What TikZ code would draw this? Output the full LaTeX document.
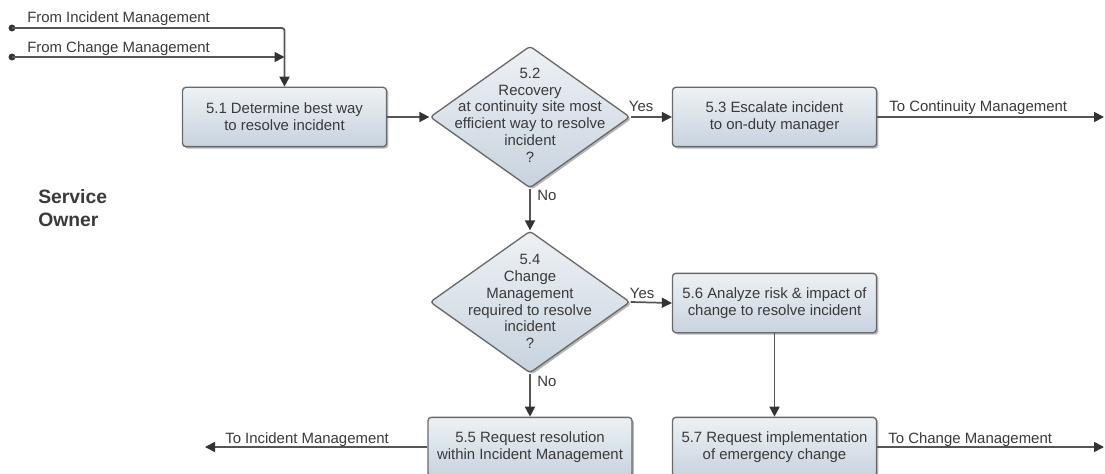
\documentclass[tikz,border=0pt]{standalone}
\usepackage{fontspec}
\setmainfont{Liberation Sans}
\usetikzlibrary{arrows.meta,shapes.geometric,shadows,calc}
\definecolor{txt}{HTML}{3A3A3A}
\definecolor{ln}{HTML}{555555}
\definecolor{bd}{HTML}{6A6A6A}
\definecolor{ftop}{HTML}{EDF1F5}
\definecolor{fbot}{HTML}{C8D3DE}
\begin{document}
\begin{tikzpicture}[x=0.75pt,y=-0.75pt,
  font=\fontsize{11.2}{12.6}\selectfont, text=txt,
  shade/.style={top color=ftop, bottom color=fbot,
    drop shadow={shadow xshift=1.4pt,shadow yshift=-1.4pt,opacity=0.4,fill=black!70}},
  stepbox/.style={shade, draw=bd, line width=1pt, rounded corners=2.5pt,
    minimum width=153pt, minimum height=44.5pt, inner sep=0pt, align=center},
  decision/.style={shade, diamond, draw=bd, line width=1pt, rounded corners=2.5pt,
    minimum width=150pt, minimum height=106.5pt, inner sep=0pt},
  dtext/.style={align=center, inner sep=0pt},
  flow/.style={draw=ln, line width=1.3pt, -{Triangle[length=7.5pt,width=7.5pt,color=black!80]}},
  lbl/.style={inner sep=0pt, anchor=base west},
  dot/.style={fill=black!80}
]
\useasboundingbox (0,0) rectangle (1105,474);

% nodes
\node[stepbox] (b51) at (284.5,117) {5.1 Determine best way\\to resolve incident};
\node[decision] (d52) at (530,117) {};
\node[dtext] (t52) at (530,115) {5.2\\Recovery\\at continuity site most\\efficient way to resolve\\incident\\?};
\node[stepbox] (b53) at (774.5,117) {5.3 Escalate incident\\to on-duty manager};
\node[decision] (d54) at (530,302) {};
\node[dtext] (t54) at (530,301.5) {5.4\\Change\\Management\\required to resolve\\incident\\?};
\node[stepbox] (b56) at (774.5,303) {5.6 Analyze risk \& impact of\\change to resolve incident};
\node[stepbox] (b55) at (530,447) {5.5 Request resolution\\within Incident Management};
\node[stepbox] (b57) at (774.5,447) {5.7 Request implementation\\of emergency change};

\node[anchor=north west, align=left, inner sep=0pt,
  font=\bfseries\fontsize{14.5}{17.25}\selectfont] (role) at (38,189) {Service\\Owner};

% inputs
\coordinate (s1) at (12,28);
\coordinate (s2) at (12,57);
\fill[dot] (s1) circle[radius=2.6pt];
\fill[dot] (s2) circle[radius=2.6pt];
\draw[flow, rounded corners=2pt] (s1) -- (s1 -| b51.north) -- (b51.north);
\draw[flow] (s2) -- (s2 -| b51.north);
\path (s1) ++(15,-5) node[lbl] (l1) {From Incident Management};
\path (s2) ++(15,-4) node[lbl] (l2) {From Change Management};

% flow
\draw[flow] (b51.east) -- (d52.west);
\draw[flow] (d52.east) -- (b53.west);
\path (d52.east) ++(-2,-5) node[lbl] (y1) {Yes};
\draw[flow] (d52.south) -- (d54.north);
\path (d52.south) ++(7,12) node[lbl] (n1) {No};
\draw[flow] (d54.east) -- (b56.west);
\path (d54.east) ++(-1,-4) node[lbl] (y2) {Yes};
\draw[flow] (d54.south) -- (b55.north);
\path (d54.south) ++(7,13) node[lbl] (n2) {No};
\draw[flow] (b56.south) -- (b57.north);

% outputs
\coordinate (o53) at (1104,117);
\coordinate (o57) at (1104,447);
\coordinate (o55) at (205,447);
\draw[flow] (b53.east) -- (o53);
\path (b53.east) ++(12,-5) node[lbl] (lo53) {To Continuity Management};
\draw[flow] (b57.east) -- (o57);
\path (b57.east) ++(11,-4) node[lbl] (lo57) {To Change Management};
\draw[flow] (b55.west) -- (o55);
\node[lbl] (lo55) at (225,443) {To Incident Management};
\end{tikzpicture}
\end{document}
